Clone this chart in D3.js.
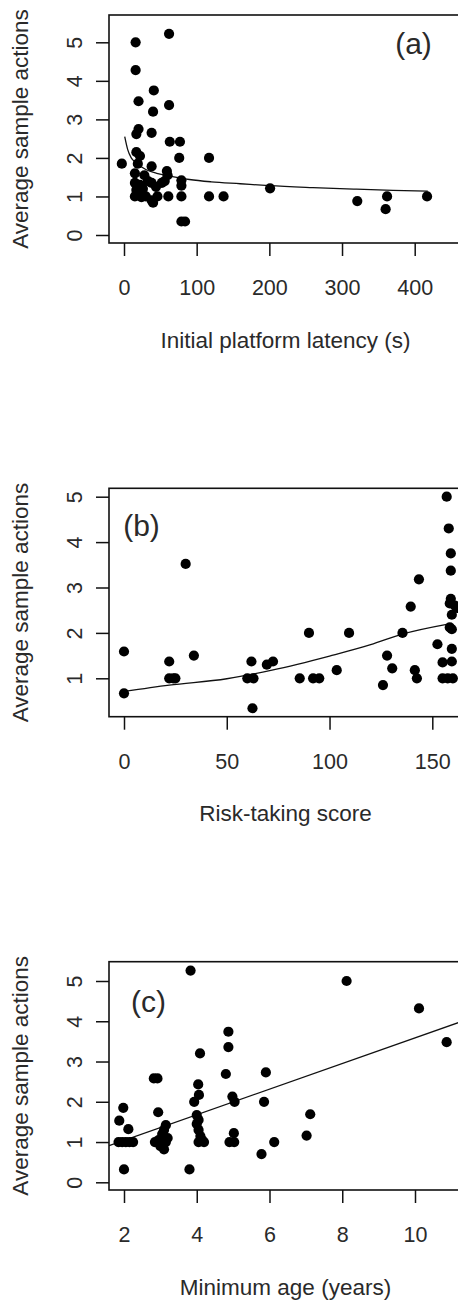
<!DOCTYPE html>
<html>
<head>
<meta charset="utf-8">
<script src="https://cdn.jsdelivr.net/npm/d3@7"></script>
<style>
  html, body { margin: 0; padding: 0; background: #fff; }
  svg { display: block; }
  text { font-family: "Liberation Sans", Arial, sans-serif; fill: #2a2a2a; }
</style>
</head>
<body>
<svg id="fig" width="458" height="1301"></svg>
<script>
// ---- (a) initial platform latency ----
const latency = [-3, 16, 62, 16, 41, 20, 62, 40, 20, 17, 38, 63, 77, 17, 22, 76, 117, 38, 59, 15,
  28, 33, 56, 79, 15, 22, 38, 79, 17, 26, 44, 60, 15, 20, 24, 38, 40, 46, 61, 79,
  117, 137, 79, 84, 201, 321, 360, 362, 417, 30, 52, 19];
const actionsA = [1.85, 5.0, 5.22, 4.28, 3.75, 3.47, 3.37, 3.2, 2.75, 2.62, 2.65, 2.42, 2.42, 2.15, 2.05, 2.0, 2.0, 1.78, 1.66, 1.6,
  1.55, 1.4, 1.4, 1.42, 1.35, 1.3, 1.35, 1.28, 1.17, 1.2, 1.25, 1.55, 1.0, 1.05, 0.98, 0.9, 0.84, 1.0, 1.0, 1.0,
  1.0, 1.0, 0.35, 0.35, 1.21, 0.88, 0.67, 1.0, 1.0, 1.0, 1.35, 1.85];
const fitLatency = [1, 5, 10, 17, 30, 45, 60, 90, 120, 160, 200, 260, 320, 370, 418];
const fitActionsA = [2.55, 2.22, 2.0, 1.87, 1.7, 1.6, 1.54, 1.44, 1.38, 1.33, 1.28, 1.23, 1.19, 1.16, 1.14];
const ticksLatency = [0, 100, 200, 300, 400];
const ticksActionsA = [0, 1, 2, 3, 4, 5];

// ---- (b) risk-taking score ----
const riskScore = [0, 0, 22, 22, 24, 25, 30, 34, 62, 60, 63, 62.5, 69.5, 72.5, 85.5, 90, 92, 95, 103.5, 109.5,
  126, 128, 130.5, 135.5, 139.5, 143.5, 141.5, 142.5, 152.5, 157, 158, 159, 159, 159, 158.5, 161, 159.5, 158.5, 159.5, 159.5,
  155, 159.5, 155, 157.5, 160, 162];
const actionsB = [1.59, 0.67, 1.37, 1.0, 1.0, 1.0, 3.52, 1.5, 1.37, 1.0, 1.0, 0.34, 1.3, 1.37, 1.0, 2.0, 1.0, 1.0, 1.18, 2.0,
  0.85, 1.5, 1.22, 2.0, 2.58, 3.18, 1.18, 1.0, 1.75, 5.0, 4.3, 3.75, 3.37, 2.75, 2.65, 2.6, 2.4, 2.12, 2.08, 1.65,
  1.35, 1.37, 1.0, 1.0, 1.0, 2.55];
const fitRisk = [0, 22, 50, 72, 100, 120, 135, 157];
const fitActionsB = [0.71, 0.85, 0.99, 1.18, 1.49, 1.74, 1.97, 2.19];
const ticksRisk = [0, 50, 100, 150];
const ticksActionsB = [1, 2, 3, 4, 5];

// ---- (c) minimum age ----
const minAge = [3.83, 8.12, 10.11, 10.87, 4.87, 4.87, 4.09, 4.8, 5.9, 2.82, 2.92, 4.04, 4.06, 3.93, 4.98, 5.04, 5.85, 1.98, 1.87, 2.12,
  2.94, 7.12, 7.02, 6.13, 5.78, 2.0, 3.8, 1.85, 1.95, 2.05, 2.15, 2.25, 2.85, 2.95, 3.05, 3.15, 3.1, 3.0, 3.1, 3.15,
  3.05, 3.2, 4.0, 4.05, 4.0, 4.05, 4.1, 4.15, 4.2, 4.05, 4.9, 5.03, 5.02];
const actionsC = [5.26, 5.0, 4.32, 3.48, 3.74, 3.36, 3.2, 2.69, 2.73, 2.58, 2.58, 2.43, 2.17, 2.0, 2.13, 2.0, 2.0, 1.85, 1.53, 1.32,
  1.74, 1.69, 1.16, 1.0, 0.7, 0.32, 0.32, 1.0, 1.0, 1.0, 1.0, 1.0, 1.0, 1.05, 1.0, 1.0, 0.82, 0.9, 1.3, 1.42,
  1.2, 1.1, 1.67, 1.55, 1.45, 1.3, 1.15, 1.05, 1.0, 1.0, 1.0, 1.0, 1.22];
const fitAge = [1.59, 11.2];
const fitActionsC = [0.91, 3.97];
const ticksAge = [2, 4, 6, 8, 10];
const ticksActionsC = [0, 1, 2, 3, 4, 5];

const yTitle = "Average sample actions";

const svg = d3.select("#fig");

// Each panel: a framed plot region whose right side runs past the page edge.
const panels = [
  {
    id: "a", tag: "(a)", xs: latency, ys: actionsA, fx: fitLatency, fy: fitActionsA,
    xTicks: ticksLatency, yTicks: ticksActionsA, xTitle: "Initial platform latency (s)",
    x: d3.scaleLinear().domain([0, 400]).range([124, 414.7]),
    y: d3.scaleLinear().domain([0, 5]).range([235, 42.3]),
    top: 15, bottom: 243, tagX: 413.5, tagY: 53.5, curve: d3.curveMonotoneX
  },
  {
    id: "b", tag: "(b)", xs: riskScore, ys: actionsB, fx: fitRisk, fy: fitActionsB,
    xTicks: ticksRisk, yTicks: ticksActionsB, xTitle: "Risk-taking score",
    x: d3.scaleLinear().domain([0, 150]).range([124, 432.3]),
    y: d3.scaleLinear().domain([1, 5]).range([678.3, 496.7]),
    top: 488.3, bottom: 716.7, tagX: 141.5, tagY: 536, curve: d3.curveMonotoneX
  },
  {
    id: "c", tag: "(c)", xs: minAge, ys: actionsC, fx: fitAge, fy: fitActionsC,
    xTicks: ticksAge, yTicks: ticksActionsC, xTitle: "Minimum age (years)",
    x: d3.scaleLinear().domain([2, 10]).range([124, 415]),
    y: d3.scaleLinear().domain([0, 5]).range([1182.3, 981]),
    top: 961.7, bottom: 1190, tagX: 148.5, tagY: 1011.5, curve: d3.curveLinear
  }
];

const boxLeft = 109, boxRight = 462;
const font = "'Liberation Sans', Arial, sans-serif";

panels.forEach(p => {
  const g = svg.append("g").attr("class", "panel-" + p.id);

  g.append("clipPath").attr("id", "clip-" + p.id)
    .append("rect")
    .attr("x", boxLeft).attr("y", p.top)
    .attr("width", boxRight - boxLeft).attr("height", p.bottom - p.top);

  const plot = g.append("g").attr("clip-path", "url(#clip-" + p.id + ")");

  // fitted trend
  const pts = p.fx.map((v, i) => [v, p.fy[i]]);
  plot.append("path")
    .datum(pts)
    .attr("fill", "none")
    .attr("stroke", "#111")
    .attr("stroke-width", 1.3)
    .attr("d", d3.line().x(d => p.x(d[0])).y(d => p.y(d[1])).curve(p.curve));

  // observations
  plot.selectAll("circle")
    .data(p.xs.map((v, i) => [v, p.ys[i]]))
    .join("circle")
    .attr("cx", d => p.x(d[0]))
    .attr("cy", d => p.y(d[1]))
    .attr("r", 5.1)
    .attr("fill", "#000");

  // frame
  g.append("rect")
    .attr("x", boxLeft).attr("y", p.top)
    .attr("width", boxRight - boxLeft).attr("height", p.bottom - p.top)
    .attr("fill", "none").attr("stroke", "#111").attr("stroke-width", 1.6);

  // bottom axis
  const ax = g.append("g")
    .attr("transform", `translate(0,${p.bottom})`)
    .call(d3.axisBottom(p.x).tickValues(p.xTicks).tickSize(13).tickSizeOuter(0).tickFormat(d3.format("d")));
  ax.select(".domain").remove();
  ax.selectAll(".tick line").attr("stroke", "#111").attr("stroke-width", 1.5);
  ax.selectAll(".tick text")
    .attr("y", 52).attr("dy", null)
    .attr("font-size", 21.5)
    .attr("fill", "#2a2a2a")
    .style("font-family", font);

  // left axis, labels turned parallel to the axis
  const ay = g.append("g")
    .attr("transform", `translate(${boxLeft},0)`)
    .call(d3.axisLeft(p.y).tickValues(p.yTicks).tickSize(13).tickSizeOuter(0).tickFormat(d3.format("d")));
  ay.select(".domain").remove();
  ay.selectAll(".tick line").attr("stroke", "#111").attr("stroke-width", 1.5);
  ay.selectAll(".tick text")
    .attr("transform", "rotate(-90)")
    .attr("x", 0).attr("y", -27.5).attr("dy", null)
    .attr("text-anchor", "middle")
    .attr("font-size", 21.5)
    .attr("fill", "#2a2a2a")
    .style("font-family", font);

  // axis titles
  g.append("text")
    .attr("x", 285.5).attr("y", p.bottom + 104.5)
    .attr("text-anchor", "middle")
    .attr("font-size", 22.5)
    .text(p.xTitle);

  g.append("text")
    .attr("transform", `translate(28,${(p.top + p.bottom) / 2}) rotate(-90)`)
    .attr("text-anchor", "middle")
    .attr("font-size", 22.5)
    .text(yTitle);

  // panel tag
  g.append("text")
    .attr("x", p.tagX).attr("y", p.tagY)
    .attr("text-anchor", "middle")
    .attr("font-size", 30)
    .attr("fill", "#444")
    .text(p.tag);
});
</script>
</body>
</html>
